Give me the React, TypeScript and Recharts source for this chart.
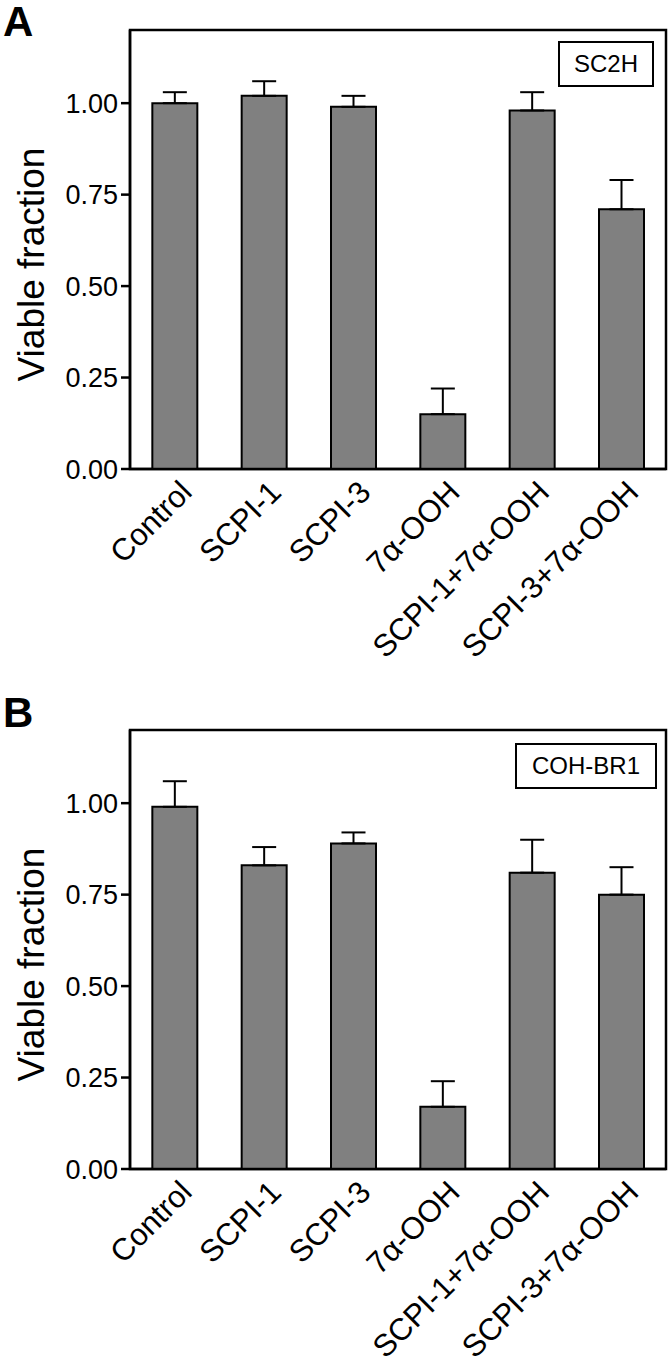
import { BarChart, Bar, XAxis, YAxis, ErrorBar, ReferenceArea, Label } from 'recharts';

const categories = ['Control', 'SCPI-1', 'SCPI-3', '7α-OOH', 'SCPI-1+7α-OOH', 'SCPI-3+7α-OOH'];
const viableA = [1.0, 1.02, 0.99, 0.15, 0.98, 0.71];
const errorA = [0.03, 0.04, 0.03, 0.07, 0.05, 0.08];
const viableB = [0.99, 0.83, 0.89, 0.17, 0.81, 0.75];
const errorB = [0.07, 0.05, 0.03, 0.07, 0.09, 0.075];
const yTicks = [0, 0.25, 0.5, 0.75, 1.0];

const FONT = '"Liberation Sans", Arial, sans-serif';

interface TickProps {
    x?: number;
    y?: number;
    payload?: { value: string };
}

function XTick({ x = 0, y = 0, payload }: TickProps) {
    return (
        <text
            transform={`translate(${x + 19},${y + 23}) rotate(-45)`}
            textAnchor="end"
            fontSize={31}
            fontFamily={FONT}
            fill="#000"
        >
            {payload?.value}
        </text>
    );
}

function YLabel({ viewBox }: { viewBox?: { x: number; y: number; width: number; height: number } }) {
    if (!viewBox) return null;
    const cx = viewBox.x + 44;
    const cy = viewBox.y + viewBox.height / 2 + 15;
    return (
        <text
            transform={`translate(${cx},${cy}) rotate(-90)`}
            textAnchor="middle"
            fontSize={37}
            fontFamily={FONT}
            fill="#000"
        >
            Viable fraction
        </text>
    );
}

interface PanelProps {
    top: number;
    letter: string;
    letterTop: number;
    values: number[];
    errors: number[];
    boxLabel: string;
    boxLeft: number;
    boxTop: number;
    boxWidth: number;
}

function Panel({ top, letter, letterTop, values, errors, boxLabel, boxLeft, boxTop, boxWidth }: PanelProps) {
    const data = categories.map((name, i) => ({ name, value: values[i], err: [0, errors[i]] }));

    return (
        <div style={{ position: 'absolute', left: 0, top, width: 672, height: 700 }}>
            <BarChart
                width={672}
                height={700}
                data={data}
                margin={{ top: 30, right: 6, left: 0, bottom: 0 }}
                barCategoryGap="25%"
            >
                <XAxis
                    dataKey="name"
                    height={231}
                    interval={0}
                    tickLine={false}
                    tickSize={0}
                    axisLine={{ stroke: '#000', strokeWidth: 2.5 }}
                    tick={<XTick />}
                />
                <YAxis
                    width={130}
                    domain={[0, 1.2]}
                    ticks={yTicks}
                    tickFormatter={(v: number) => v.toFixed(2)}
                    tickSize={9}
                    tickMargin={3}
                    axisLine={{ stroke: '#000', strokeWidth: 2.5 }}
                    tickLine={{ stroke: '#000', strokeWidth: 2.5 }}
                    tick={{ fill: '#000', fontSize: 27, fontFamily: FONT }}
                >
                    <Label content={<YLabel />} />
                </YAxis>
                <Bar dataKey="value" fill="#808080" stroke="#000" strokeWidth={2} isAnimationActive={false}>
                    <ErrorBar dataKey="err" width={12} stroke="#000" strokeWidth={2} direction="y" />
                </Bar>
                <ReferenceArea y1={0} y2={1.2} fill="none" stroke="#000" strokeWidth={2.5} ifOverflow="visible" />
            </BarChart>
            <div
                style={{
                    position: 'absolute',
                    left: 3,
                    top: letterTop,
                    fontFamily: FONT,
                    fontWeight: 'bold',
                    fontSize: 42,
                    lineHeight: '42px',
                }}
            >
                {letter}
            </div>
            <div
                style={{
                    position: 'absolute',
                    left: boxLeft,
                    top: boxTop,
                    width: boxWidth,
                    height: 46,
                    boxSizing: 'border-box',
                    border: '2.5px solid #000',
                    background: '#fff',
                    display: 'flex',
                    alignItems: 'center',
                    justifyContent: 'center',
                    fontFamily: FONT,
                    fontSize: 24,
                }}
            >
                {boxLabel}
            </div>
        </div>
    );
}

export default function App() {
    return (
        <div style={{ position: 'absolute', left: 0, top: 0, width: 672, height: 1367, background: '#fff' }}>
            <Panel
                top={0}
                letter="A"
                letterTop={1}
                values={viableA}
                errors={errorA}
                boxLabel="SC2H"
                boxLeft={558}
                boxTop={41}
                boxWidth={96}
            />
            <Panel
                top={700}
                letter="B"
                letterTop={-8}
                values={viableB}
                errors={errorB}
                boxLabel="COH-BR1"
                boxLeft={515}
                boxTop={43}
                boxWidth={142}
            />
        </div>
    );
}
